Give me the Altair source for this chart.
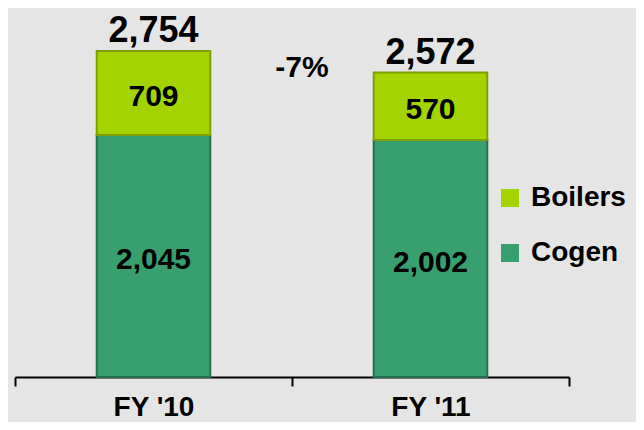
import altair as alt
import pandas as pd

years = ["FY '10", "FY '11"]
cogen = [2045, 2002]
boilers = [709, 570]
totals = [2754, 2572]
change_label = "-7%"
series_names = ["Boilers", "Cogen"]
series_colors = ["#a3d400", "#38a06f"]
stroke_colors = ["#7f9e00", "#24724d"]

FONT = "Liberation Sans"

rows = []
for i, yr in enumerate(years):
    rows.append({"year": yr, "series": "Cogen", "value": cogen[i], "ord": 0})
    rows.append({"year": yr, "series": "Boilers", "value": boilers[i], "ord": 1})
df = pd.DataFrame(rows)
df["label"] = df["value"].map(lambda v: f"{v:,}")

tot_df = pd.DataFrame({"year": years, "total": totals,
                       "label": [f"{t:,}" for t in totals]})
chg_df = pd.DataFrame({"label": [change_label]})

x_scale = alt.Scale(paddingInner=0, paddingOuter=0)
x_enc = alt.X("year:N", sort=years, scale=x_scale,
              axis=alt.Axis(title=None, labelAngle=0, tickBand="extent",
                            domainColor="black", domainWidth=2,
                            tickColor="black", tickWidth=2, tickSize=9,
                            labelFont=FONT, labelFontSize=28,
                            labelFontWeight="bold", labelColor="black",
                            labelPadding=7))
y_scale = alt.Scale(domain=[0, 3075], nice=False)

bars = alt.Chart(df).mark_bar(strokeWidth=2, width=alt.RelativeBandSize(0.41)).encode(
    x=x_enc,
    y=alt.Y("value:Q", stack="zero", scale=y_scale, axis=None),
    color=alt.Color("series:N", sort=series_names,
                    scale=alt.Scale(domain=series_names, range=series_colors),
                    legend=alt.Legend(title=None, orient="none",
                                      legendX=481, legendY=171,
                                      symbolType="square", symbolSize=324,
                                      symbolStrokeWidth=0,
                                      labelFont=FONT, labelFontSize=28,
                                      labelFontWeight="bold", labelColor="black",
                                      labelOffset=7, rowPadding=27)),
    stroke=alt.Stroke("series:N",
                      scale=alt.Scale(domain=series_names, range=stroke_colors),
                      legend=None),
    order=alt.Order("ord:Q"),
)

inner = alt.Chart(df).transform_stack(
    stack="value", groupby=["year"], as_=["v0", "v1"],
    sort=[alt.SortField("ord", order="ascending")]
).transform_calculate(mid="(datum.v0 + datum.v1) / 2").mark_text(
    font=FONT, fontSize=30, fontWeight="bold", color="black", baseline="middle", dy=4
).encode(
    x=alt.X("year:N", sort=years, scale=x_scale),
    y=alt.Y("mid:Q", scale=y_scale),
    text="label:N",
)

tots = alt.Chart(tot_df).mark_text(
    font=FONT, fontSize=36, fontWeight="bold", color="black",
    baseline="alphabetic", dy=-9
).encode(
    x=alt.X("year:N", sort=years, scale=x_scale),
    y=alt.Y("total:Q", scale=y_scale),
    text="label:N",
)

chg = alt.Chart(chg_df).mark_text(
    font=FONT, fontSize=30, fontWeight="bold", color="black",
    baseline="alphabetic"
).encode(
    x=alt.value(287), y=alt.value(64), text="label:N"
)

chart = alt.layer(bars, inner, tots, chg).properties(
    width=554, height=364,
    autosize=alt.AutoSizeParams(type="none"),
    padding={"left": 7, "top": 5, "right": 67, "bottom": 45},
    background="#e5e5e5",
).configure_view(stroke=None)

chart.save("out.html", embed_options={"renderer": "svg", "actions": False})
